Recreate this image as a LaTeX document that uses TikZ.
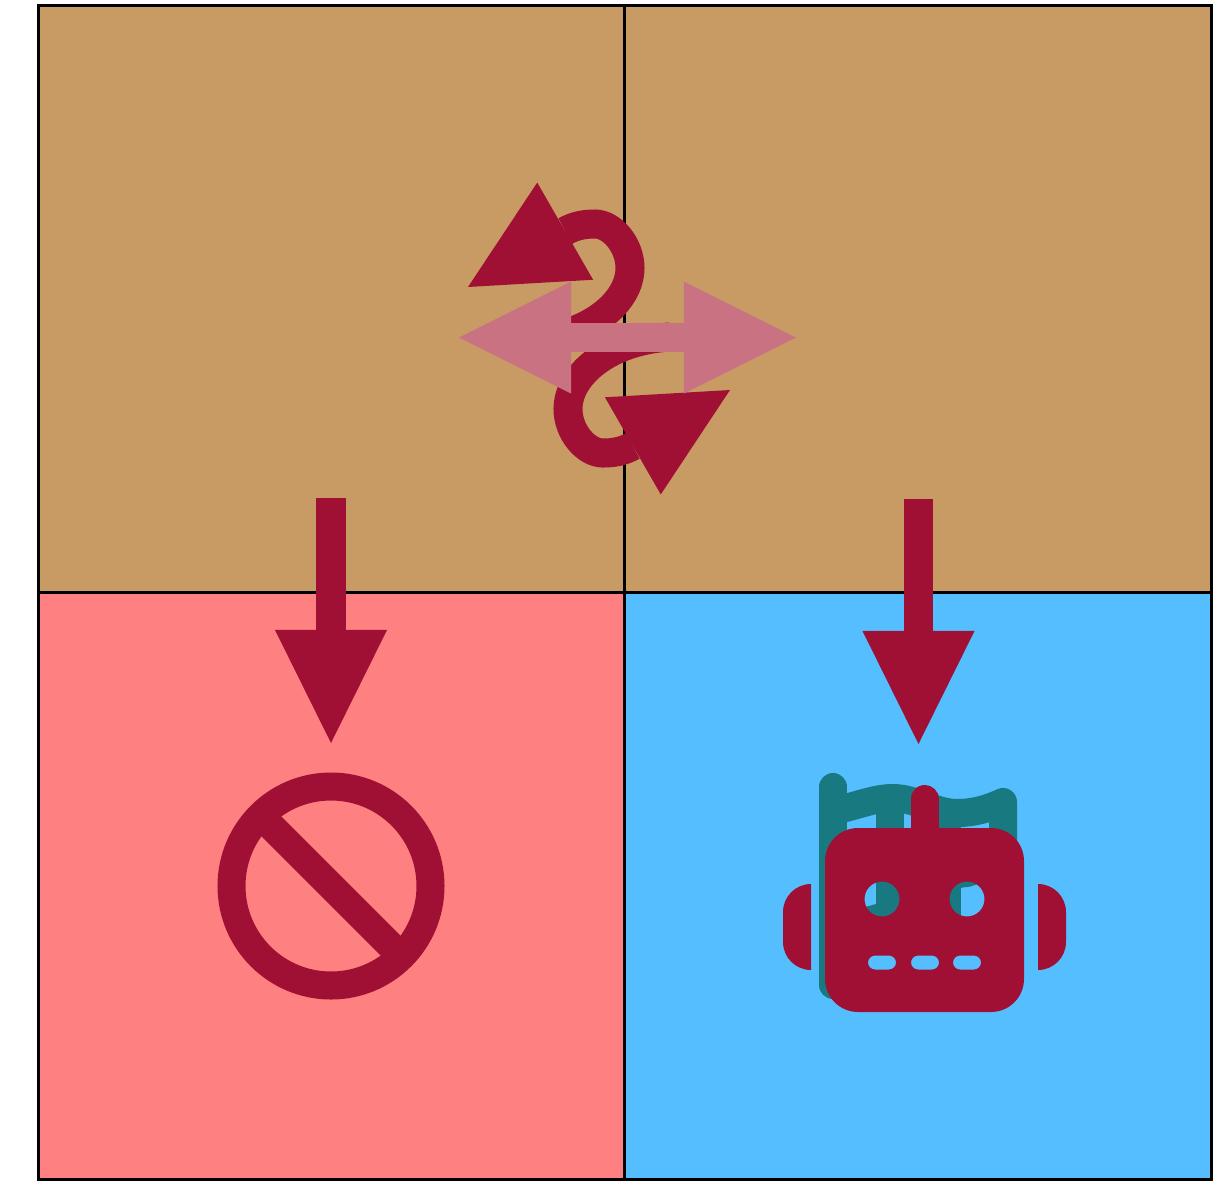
\documentclass[tikz,border=0pt]{standalone}
\definecolor{cellplay}{HTML}{C89B64}
\definecolor{cellban}{HTML}{FF8080}
\definecolor{cellbot}{HTML}{55BEFF}
\definecolor{markdark}{HTML}{A01034}
\definecolor{markpale}{HTML}{C87282}
\definecolor{markteal}{HTML}{187A80}
\usetikzlibrary{arrows.meta,positioning}

\begin{document}
\begin{tikzpicture}[x=0.01cm,y=-0.01cm,
  cell/.style={draw=black, line width=0.03cm, minimum width=5.865cm, minimum height=5.865cm,
               inner sep=0pt},
  bigarr/.style={-{Triangle[length=1.13cm,width=1.12cm,line width=0pt]},draw=markdark,line width=0.29cm},
  curvearr/.style={-{Triangle[length=1.12cm,width=1.12cm,line width=0pt]},draw=markdark,line width=0.29cm},
  swaparr/.style={{Triangle[length=1.12cm,width=1.12cm,line width=0pt]}-{Triangle[length=1.12cm,width=1.12cm,line width=0pt]},
                  draw=markpale,line width=0.29cm},
  flagline/.style={draw=markteal,line width=0.28cm,line cap=round,line join=round},
  botfill/.style={fill=markdark}
]
  \useasboundingbox (0,0) rectangle (1230,1181);

  \node[cell, fill=cellplay] (tl) at (331.5,299) {};
  \node[cell, fill=cellplay] (tr) at (918,299) {};
  \node[cell, fill=cellban] (bl) at (331.5,885.8) {};
  \node[cell, fill=cellbot] (br) at (918,885.8) {};

  \coordinate (tlout) at (331,498);
  \coordinate (tlin) at (331,743);
  \coordinate (trout) at (918.5,499);
  \coordinate (trin) at (918.5,744);
  \draw[bigarr] (tlout) -- (tlin);
  \draw[bigarr] (trout) -- (trin);

  \coordinate (upstart) at (528,340);
  \coordinate (uptip) at (468,287);
  \coordinate (downstart) at (670,337);
  \coordinate (downtip) at (730,390);
  \draw[curvearr] (upstart) .. controls (545,339) and (558,336) .. (570,332)
    .. controls (605,320) and (630,295) .. (630,268)
    .. controls (630,245) and (612,224) .. (595,224)
    .. controls (585,224) and (575,225.5) .. (uptip);
  \draw[curvearr] (downstart) .. controls (653,338) and (640,341) .. (628,345)
    .. controls (593,357) and (568,382) .. (568,409)
    .. controls (568,432) and (586,453) .. (603,453)
    .. controls (613,453) and (623,451.5) .. (downtip);

  \coordinate (swapl) at (459,337.5);
  \coordinate (swapr) at (796,337.5);
  \draw[swaparr] (swapl) -- (swapr);

  % no-entry sign
  \draw[draw=markdark,line width=0.28cm] (331,886) circle[radius=99.5];
  \draw[draw=markdark,line width=0.28cm] (262,817) -- (400,955);

  % flag behind the robot
  \draw[flagline] (833,787) -- (833,985);
  \draw[flagline] (833,811) .. controls (860,805) and (875,798) .. (893,798)
                            .. controls (915,798) and (935,813) .. (957,813)
                            .. controls (975,813) and (990,808) .. (1003,802) -- (1003,860);
  \draw[flagline] (833,925) .. controls (860,925) and (875,918) .. (890,915)
                            .. controls (920,905) and (940,873) .. (967,873) -- (1003,860);
  \draw[flagline] (890,815) -- (890,940);
  \draw[flagline] (947,825) -- (947,940);

  % robot
  \draw[draw=markdark,line width=0.28cm,line cap=round] (924.5,799) -- (924.5,835);
  \fill[botfill, even odd rule, rounded corners=0.33cm] (825,828) rectangle (1024,1012)
    [rounded corners=0.07cm] (868,955.5) rectangle (896,969.5)
    (911,955.5) rectangle (939,969.5) (953,955.5) rectangle (981,969.5)
    [sharp corners] (882,899) circle[radius=17.5] (967,899) circle[radius=17.5];
  \fill[botfill] [sharp corners] (811,884) [rounded corners=0.28cm] -- (783,884) -- (783,970)
    [sharp corners] -- (811,970) -- cycle;
  \fill[botfill] [sharp corners] (1038,884) [rounded corners=0.28cm] -- (1066,884) -- (1066,970)
    [sharp corners] -- (1038,970) -- cycle;

\end{tikzpicture}
\end{document}
